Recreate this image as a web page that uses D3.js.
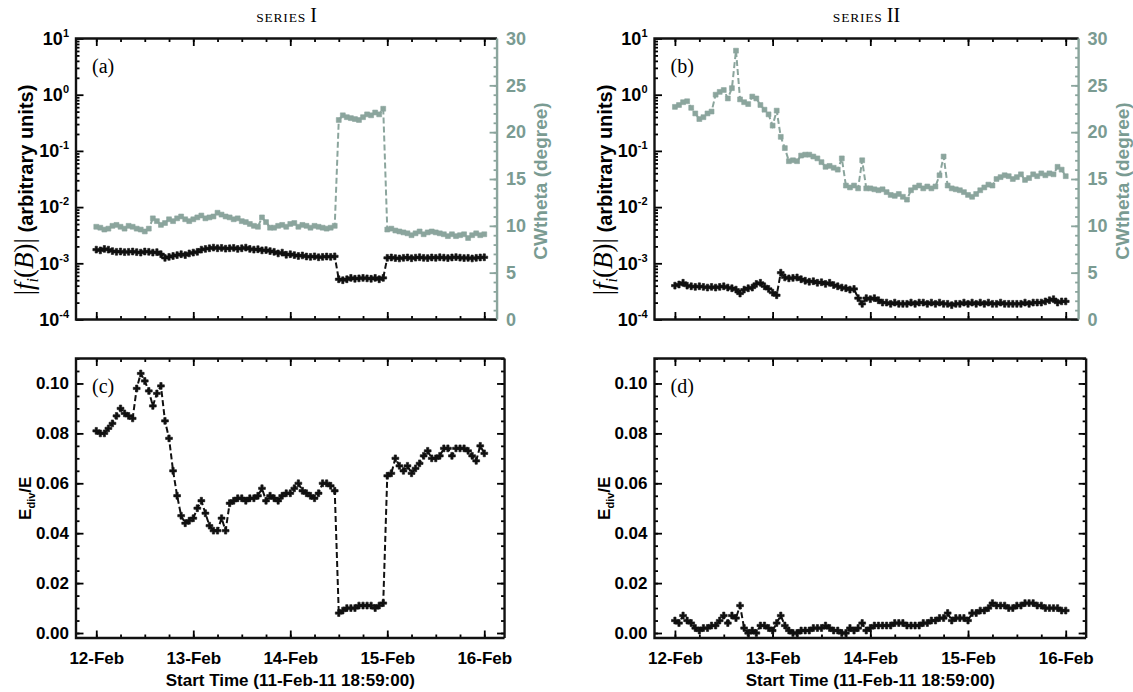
<!DOCTYPE html>
<html>
<head>
<meta charset="utf-8">
<script src="https://cdn.jsdelivr.net/npm/d3@7"></script>
<style>
    body { margin: 0; background: #fff; }
    text { font-family: "Liberation Sans", Arial, sans-serif; font-weight: bold; }
    .serif { font-family: "Liberation Serif", "Times New Roman", serif; font-weight: normal; }
</style>
</head>
<body>
<div id="chart"></div>
<script>

// ---------------- data ----------------
const startTime = new Date(Date.UTC(2011, 1, 11, 18, 59));   // 11-Feb-11 18:59:00
const sampleStart = Date.UTC(2011, 1, 12, 0, 0);              // first sample, hourly cadence
const sampleHours = d3.range(0, 97);

const dayTicks = [12, 13, 14, 15, 16].map(d => new Date(Date.UTC(2011, 1, d)));
const logTicks = [1e-4, 1e-3, 1e-2, 1e-1, 1e0, 1e1];
const thetaTicks = [0, 5, 10, 15, 20, 25, 30];
const edivTicks = [0, 0.02, 0.04, 0.06, 0.08, 0.10];

// panel (a): |f_i(B)| and CWtheta, series I
const fluxI = [
    1.75e-3, 1.70e-3, 1.80e-3, 1.75e-3, 1.65e-3, 1.60e-3, 1.62e-3, 1.58e-3, 1.60e-3, 1.62e-3,
    1.58e-3, 1.55e-3, 1.62e-3, 1.60e-3, 1.55e-3, 1.58e-3, 1.45e-3, 1.25e-3, 1.30e-3, 1.35e-3,
    1.40e-3, 1.45e-3, 1.40e-3, 1.50e-3, 1.55e-3, 1.60e-3, 1.75e-3, 1.80e-3, 1.85e-3, 1.90e-3,
    1.85e-3, 1.88e-3, 1.82e-3, 1.85e-3, 1.88e-3, 1.80e-3, 1.85e-3, 1.90e-3, 1.80e-3, 1.75e-3,
    1.78e-3, 1.70e-3, 1.72e-3, 1.65e-3, 1.60e-3, 1.50e-3, 1.55e-3, 1.42e-3, 1.45e-3, 1.40e-3,
    1.35e-3, 1.38e-3, 1.32e-3, 1.30e-3, 1.33e-3, 1.28e-3, 1.30e-3, 1.32e-3, 1.30e-3, 1.33e-3,
    0.52e-3, 0.50e-3, 0.52e-3, 0.55e-3, 0.53e-3, 0.54e-3, 0.55e-3, 0.54e-3, 0.53e-3, 0.55e-3,
    0.52e-3, 0.55e-3, 1.25e-3, 1.27e-3, 1.24e-3, 1.22e-3, 1.25e-3, 1.27e-3, 1.23e-3, 1.26e-3,
    1.28e-3, 1.25e-3, 1.24e-3, 1.27e-3, 1.25e-3, 1.28e-3, 1.26e-3, 1.24e-3, 1.27e-3, 1.29e-3,
    1.26e-3, 1.24e-3, 1.25e-3, 1.22e-3, 1.25e-3, 1.27e-3, 1.28e-3
];
const thetaI = [
    9.9, 9.8, 9.6, 9.7, 10.0, 10.1, 9.9, 9.7, 10.0, 9.9,
    9.7, 9.6, 9.4, 9.7, 10.8, 10.5, 10.1, 10.3, 10.7, 10.5,
    10.8, 11.0, 10.7, 10.5, 10.7, 10.9, 11.1, 10.8, 10.9, 11.0,
    11.4, 11.2, 11.0, 10.9, 10.7, 10.8, 10.5, 10.4, 10.2, 10.0,
    9.9, 10.9, 10.4, 9.8, 9.8, 10.0, 10.1, 9.9, 10.2, 10.3,
    9.9, 10.1, 10.0, 9.8, 10.0, 9.9, 9.8, 9.7, 9.8, 10.0,
    21.3, 21.8, 21.6, 21.5, 21.4, 21.3, 21.6, 21.9, 21.8, 22.1,
    21.9, 22.5, 9.6, 9.7, 9.5, 9.4, 9.3, 9.2, 9.0, 9.2,
    9.4, 9.1, 9.3, 9.4, 9.3, 9.2, 9.1, 8.9, 9.1, 8.9,
    9.0, 9.1, 8.7, 9.0, 9.2, 9.0, 9.1
];

// panel (b): |f_i(B)| and CWtheta, series II
const fluxII = [
    4.0e-4, 4.2e-4, 4.5e-4, 4.0e-4, 3.9e-4, 3.8e-4, 3.9e-4, 3.8e-4, 3.7e-4, 3.8e-4,
    3.7e-4, 3.8e-4, 3.9e-4, 3.7e-4, 3.6e-4, 3.4e-4, 2.9e-4, 3.4e-4, 3.6e-4, 3.7e-4,
    4.3e-4, 4.5e-4, 3.9e-4, 3.5e-4, 3.0e-4, 2.7e-4, 6.8e-4, 5.6e-4, 5.4e-4, 5.5e-4,
    5.6e-4, 5.2e-4, 4.9e-4, 4.7e-4, 4.8e-4, 4.5e-4, 4.6e-4, 4.3e-4, 4.5e-4, 4.1e-4,
    3.9e-4, 3.7e-4, 3.6e-4, 3.4e-4, 3.5e-4, 2.4e-4, 1.9e-4, 2.4e-4, 2.3e-4, 2.4e-4,
    2.2e-4, 2.0e-4, 2.0e-4, 1.9e-4, 2.0e-4, 1.9e-4, 1.9e-4, 1.9e-4, 2.0e-4, 1.9e-4,
    2.0e-4, 2.0e-4, 1.9e-4, 2.0e-4, 1.9e-4, 2.0e-4, 1.9e-4, 1.9e-4, 1.8e-4, 1.9e-4,
    1.9e-4, 2.0e-4, 1.9e-4, 2.0e-4, 1.9e-4, 2.0e-4, 1.9e-4, 2.0e-4, 1.9e-4, 1.9e-4,
    2.0e-4, 1.9e-4, 1.9e-4, 1.9e-4, 1.9e-4, 1.9e-4, 2.0e-4, 1.9e-4, 2.0e-4, 2.0e-4,
    2.0e-4, 2.1e-4, 2.2e-4, 2.3e-4, 2.0e-4, 2.1e-4, 2.1e-4
];
const thetaII = [
    22.7, 22.9, 23.2, 23.3, 22.6, 22.0, 21.4, 21.6, 22.0, 22.2,
    24.0, 24.3, 24.5, 23.6, 24.7, 28.7, 23.5, 23.2, 23.0, 23.8,
    23.6, 22.9, 22.4, 21.9, 20.7, 22.3, 19.5, 18.3, 16.9, 17.0,
    16.9, 17.5, 17.6, 17.6, 17.4, 17.2, 16.8, 16.3, 16.4, 16.2,
    16.0, 17.2, 14.3, 14.1, 14.3, 14.0, 17.0, 14.0, 14.0, 13.9,
    13.8, 13.9, 13.6, 13.3, 13.2, 13.4, 13.1, 12.8, 13.8, 14.1,
    14.3, 14.0, 14.2, 14.0, 14.2, 15.4, 17.4, 14.3, 14.0, 13.9,
    13.8, 13.6, 13.3, 13.1, 13.4, 13.8, 14.1, 14.4, 14.3, 15.0,
    15.2, 15.4, 15.3, 15.0, 15.2, 15.5, 14.9, 15.1, 15.5, 15.3,
    15.6, 15.4, 15.6, 15.5, 16.3, 16.0, 15.3
];

// panel (c) / (d): E_div/E
const edivI = [
    0.081, 0.080, 0.080, 0.082, 0.084, 0.087, 0.090, 0.088, 0.087, 0.086,
    0.098, 0.104, 0.101, 0.097, 0.091, 0.096, 0.099, 0.085, 0.078, 0.065,
    0.055, 0.047, 0.044, 0.045, 0.046, 0.050, 0.053, 0.048, 0.043, 0.041,
    0.041, 0.046, 0.041, 0.052, 0.053, 0.054, 0.054, 0.053, 0.054, 0.054,
    0.055, 0.058, 0.053, 0.055, 0.054, 0.053, 0.055, 0.056, 0.056, 0.058,
    0.060, 0.057, 0.056, 0.055, 0.054, 0.056, 0.060, 0.060, 0.059, 0.057,
    0.008, 0.009, 0.010, 0.010, 0.010, 0.011, 0.011, 0.011, 0.011, 0.010,
    0.011, 0.012, 0.063, 0.064, 0.070, 0.067, 0.065, 0.067, 0.064, 0.066,
    0.068, 0.071, 0.073, 0.070, 0.070, 0.071, 0.074, 0.074, 0.071, 0.074,
    0.074, 0.074, 0.073, 0.071, 0.069, 0.075, 0.072
];
const edivII = [
    0.005, 0.004, 0.007, 0.005, 0.004, 0.002, 0.001, 0.002, 0.002, 0.003,
    0.003, 0.005, 0.007, 0.004, 0.007, 0.006, 0.011, 0.002, 0.000, 0.001,
    0.000, 0.003, 0.003, 0.002, 0.001, 0.004, 0.007, 0.003, 0.001, 0.000,
    0.000, 0.001, 0.001, 0.001, 0.002, 0.002, 0.002, 0.003, 0.002, 0.001,
    0.001, 0.000, 0.000, 0.002, 0.001, 0.002, 0.004, 0.001, 0.002, 0.003,
    0.003, 0.003, 0.003, 0.003, 0.004, 0.004, 0.004, 0.003, 0.003, 0.003,
    0.003, 0.004, 0.004, 0.005, 0.005, 0.006, 0.006, 0.008, 0.005, 0.006,
    0.006, 0.006, 0.005, 0.008, 0.008, 0.009, 0.009, 0.010, 0.012, 0.011,
    0.011, 0.011, 0.010, 0.010, 0.011, 0.011, 0.012, 0.012, 0.012, 0.011,
    0.011, 0.010, 0.010, 0.010, 0.010, 0.009, 0.009
];

// ---------------- layout ----------------
const grayColor = "#8ba59d";
const grayText = "#7a9b92";
const dayMs = 864e5;

const svg = d3.select("#chart").append("svg")
    .attr("width", 1133)
    .attr("height", 692);


class TimePanel {

    constructor(config) {
        this.config = config;
        this.initVis();
    }

    initVis() {
        let vis = this;
        let c = vis.config;

        vis.width = (c.end - startTime) / dayMs * c.dayPx;
        vis.height = c.height;

        vis.g = svg.append("g")
            .attr("transform", "translate(" + c.left + "," + c.top + ")");

        vis.x = d3.scaleUtc()
            .domain([startTime, c.end])
            .range([0, vis.width]);

        // time ticks, pointing inward on bottom and top edges
        vis.g.append("g")
            .attr("transform", "translate(0," + vis.height + ")")
            .call(d3.axisBottom(vis.x).ticks(d3.utcHour.every(6)).tickSize(-3.5).tickFormat(""));
        vis.g.append("g")
            .attr("class", "x-axis")
            .attr("transform", "translate(0," + vis.height + ")")
            .call(d3.axisBottom(vis.x).tickValues(dayTicks).tickSize(-7.5).tickPadding(14)
                .tickFormat(c.dates ? d3.utcFormat("%d-%b") : ""));
        vis.g.append("g")
            .call(d3.axisTop(vis.x).ticks(d3.utcHour.every(6)).tickSize(-3.5).tickFormat(""));
        vis.g.append("g")
            .call(d3.axisTop(vis.x).tickValues(dayTicks).tickSize(-7.5).tickFormat(""));

        vis.g.append("text")
            .attr("class", "serif")
            .attr("x", 16)
            .attr("y", 34)
            .attr("font-size", 20)
            .text(c.label);

        if (c.dates) {
            vis.g.selectAll(".x-axis text").attr("font-size", 17).attr("font-weight", "bold");
            vis.g.append("text")
                .attr("x", vis.width / 2)
                .attr("y", vis.height + 48)
                .attr("text-anchor", "middle")
                .attr("font-size", 17)
                .text("Start Time (11-Feb-11 18:59:00)");
        }
    }

    // black / gray dashed line with a marker on every sample
    drawSeries(values, yScale, color, symbolType, symbolSize) {
        let vis = this;
        let pts = values.map((v, i) => ({t: new Date(sampleStart + sampleHours[i] * 36e5), v: v}));

        vis.g.append("path")
            .datum(pts)
            .attr("fill", "none")
            .attr("stroke", color)
            .attr("stroke-width", 2)
            .attr("stroke-dasharray", "6,3")
            .attr("d", d3.line().x(d => vis.x(d.t)).y(d => yScale(d.v)));

        vis.g.append("g")
            .selectAll("path")
            .data(pts)
            .join("path")
            .attr("transform", d => "translate(" + vis.x(d.t) + "," + yScale(d.v) + ")")
            .attr("d", d3.symbol().type(symbolType).size(symbolSize))
            .attr("fill", color)
            .attr("stroke", color)
            .attr("stroke-width", 0.6);
    }

    // top row: log |f_i(B)| on the left, CWtheta on the right
    fluxVis(flux, theta) {
        let vis = this;

        vis.y = d3.scaleLog().domain([1e-4, 1e1]).range([vis.height, 0]);
        vis.yTheta = d3.scaleLinear().domain([0, 30]).range([vis.height, 0]);

        let minorLog = [];
        logTicks.slice(0, -1).forEach(t => d3.range(2, 10).forEach(m => minorLog.push(t * m)));

        vis.g.append("g")
            .call(d3.axisLeft(vis.y).tickValues(minorLog).tickSize(-3.5).tickFormat(""));
        let left = vis.g.append("g")
            .call(d3.axisLeft(vis.y).tickValues(logTicks).tickSize(-7.5).tickPadding(7));
        left.selectAll(".tick text").each(function (d) {
            let t = d3.select(this).text(null).attr("font-size", 18);
            t.append("tspan").text("10");
            t.append("tspan").attr("font-size", 11).attr("dy", -8).text(Math.round(Math.log10(d)));
        });

        let right = vis.g.append("g")
            .attr("transform", "translate(" + vis.width + ",0)")
            .attr("color", grayColor);
        right.append("g")
            .call(d3.axisRight(vis.yTheta).ticks(30).tickSize(-3.5).tickFormat(""));
        right.append("g")
            .call(d3.axisRight(vis.yTheta).tickValues(thetaTicks).tickSize(-7.5).tickPadding(9));
        right.selectAll(".tick text").attr("font-size", 18).attr("fill", grayText);

        vis.frame(true);

        vis.drawSeries(theta, vis.yTheta, grayColor, d3.symbolSquare, 24);
        vis.drawSeries(flux, vis.y, "#111", d3.symbolCross, 26);

        // y titles
        let lt = vis.g.append("text")
            .attr("transform", "translate(-43," + (vis.height / 2 + 11) + ") rotate(-90)")
            .attr("text-anchor", "middle");
        lt.append("tspan").attr("class", "serif").attr("font-size", 27).text("|");
        lt.append("tspan").attr("class", "serif").attr("font-size", 27).attr("font-style", "italic").text("f");
        lt.append("tspan").attr("class", "serif").attr("font-size", 16).attr("font-style", "italic").attr("dy", 5).text("i");
        lt.append("tspan").attr("class", "serif").attr("font-size", 27).attr("dy", -5).text("(");
        lt.append("tspan").attr("class", "serif").attr("font-size", 27).attr("font-style", "italic").attr("font-weight", "bold").text("B");
        lt.append("tspan").attr("class", "serif").attr("font-size", 27).text(")|");
        lt.append("tspan").attr("font-size", 20).text(" (arbitrary units)");

        vis.g.append("text")
            .attr("transform", "translate(" + (vis.width + 50) + "," + (vis.height / 2 + 2) + ") rotate(-90)")
            .attr("text-anchor", "middle")
            .attr("font-size", 19)
            .attr("fill", grayText)
            .text("CWtheta (degree)");
    }

    // bottom row: E_div/E
    edivVis(ediv) {
        let vis = this;

        vis.y = d3.scaleLinear().domain([-0.002, 0.110]).range([vis.height, 0]);
        let minor = d3.range(0, 0.1101, 0.005);

        vis.g.append("g").call(d3.axisLeft(vis.y).tickValues(minor).tickSize(-3.5).tickFormat(""));
        vis.g.append("g")
            .call(d3.axisLeft(vis.y).tickValues(edivTicks).tickSize(-7.5).tickPadding(7).tickFormat(d3.format(".2f")))
            .selectAll(".tick text").attr("font-size", 17);
        let right = vis.g.append("g").attr("transform", "translate(" + vis.width + ",0)");
        right.append("g").call(d3.axisRight(vis.y).tickValues(minor).tickSize(-3.5).tickFormat(""));
        right.append("g").call(d3.axisRight(vis.y).tickValues(edivTicks).tickSize(-7.5).tickFormat(""));

        vis.frame(false);

        vis.drawSeries(ediv, vis.y, "#111", d3.symbolCross, 26);

        let lt = vis.g.append("text")
            .attr("transform", "translate(-45," + (vis.height / 2) + ") rotate(-90)")
            .attr("text-anchor", "middle")
            .attr("font-size", 17);
        lt.append("tspan").text("E");
        lt.append("tspan").attr("font-size", 11).attr("dy", 4).text("div");
        lt.append("tspan").attr("dy", -4).text("/E");
    }

    frame(grayRight) {
        let vis = this;
        vis.g.selectAll(".domain").remove();
        vis.g.selectAll(".tick line").attr("stroke-width", 1.8);
        vis.g.append("path")
            .attr("d", "M" + vis.width + ",0H0V" + vis.height + "H" + vis.width)
            .attr("fill", "none").attr("stroke", "#111").attr("stroke-width", 2.4);
        vis.g.append("line")
            .attr("x1", vis.width).attr("x2", vis.width)
            .attr("y1", 0).attr("y2", vis.height)
            .attr("stroke", grayRight ? grayColor : "#111").attr("stroke-width", 2.4);
    }
}

const topEnd = new Date(Date.UTC(2011, 1, 16, 3, 10));
const bottomEnd = new Date(Date.UTC(2011, 1, 16, 5, 1));

let panelA = new TimePanel({left: 76, top: 38.5, height: 281, dayPx: 97, end: topEnd, label: "(a)", dates: false});
panelA.fluxVis(fluxI, thetaI);
let panelB = new TimePanel({left: 654.5, top: 38.5, height: 281, dayPx: 97.7, end: topEnd, label: "(b)", dates: false});
panelB.fluxVis(fluxII, thetaII);
let panelC = new TimePanel({left: 76, top: 358.5, height: 279.5, dayPx: 97, end: bottomEnd, label: "(c)", dates: true});
panelC.edivVis(edivI);
let panelD = new TimePanel({left: 654.5, top: 358.5, height: 279.5, dayPx: 97.7, end: bottomEnd, label: "(d)", dates: true});
panelD.edivVis(edivII);

// column titles
[["I", 76 + 421 / 2], ["II", 654.5 + 424 / 2]].forEach(([num, cx]) => {
    let t = svg.append("text")
        .attr("class", "serif")
        .attr("x", cx)
        .attr("y", 22)
        .attr("text-anchor", "middle");
    t.append("tspan").attr("font-size", 13.5).attr("letter-spacing", 0.8).text("SERIES ");
    t.append("tspan").attr("font-size", 20).text(num);
});

</script>
</body>
</html>
